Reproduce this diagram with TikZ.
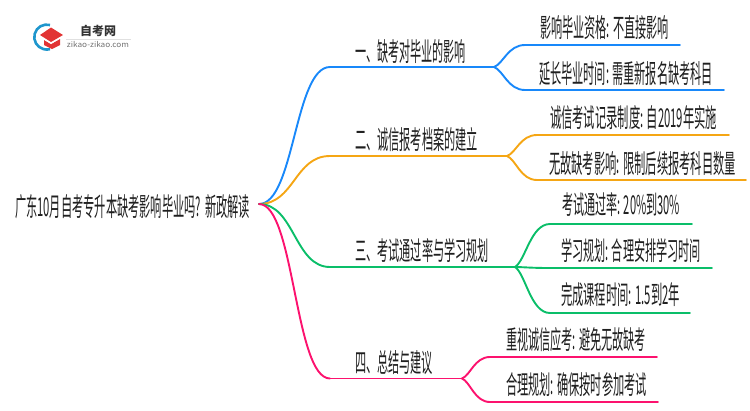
\documentclass[tikz,border=0pt]{standalone}
\usepackage{fontspec}
\usepackage{graphicx}
\setmainfont{Noto Sans CJK SC}
\definecolor{cblue}{RGB}{24,136,250}
\definecolor{corange}{RGB}{245,166,20}
\definecolor{cgreen}{RGB}{10,190,105}
\definecolor{cpink}{RGB}{252,18,110}
\definecolor{capred}{RGB}{226,52,52}
\definecolor{logoblue}{RGB}{30,150,205}
\newcommand{\fitw}[2]{\resizebox{#1pt}{22pt}{#2}}
\tikzset{
  lbl/.style={anchor=west,inner sep=0pt,outer sep=0pt,font=\fontsize{20}{22}\selectfont,text=black!88},
  conn/.style={line width=1.9pt,line cap=round},
}
\newcommand{\branch}[3]{\draw[conn,#1] (#2) .. controls ($(#2)!0.5!(#2 -| #3)$) and ($(#3)!0.5!(#3 -| #2)$) .. (#3);}
\newcommand{\forkto}[3]{\draw[conn,#1] (#2) .. controls ($(#2)!0.3!(#2 -| #3) + 0.15*(#3) - 0.15*(#2 -| #3)$) and ($(#3)!0.55!(#3 -| #2)$) .. (#3);}
\usetikzlibrary{calc}
\begin{document}
\begin{tikzpicture}[x=1pt,y=-1pt]
\useasboundingbox (0,0) rectangle (750,410);
% logo
\draw[line width=2.6pt,logoblue] (50,25) arc[start angle=-75,end angle=-285,radius=12.5];
\fill[capred] (40,35) -- (51,27.5) -- (63,35) -- (51,42) -- cycle;
\fill[capred] (44,40) -- (51,44) -- (60,39) -- (60,45) -- (52,49) -- (44,45) -- cycle;
\draw[white,line width=0.9pt] (43,38.5) -- (51,43.5) -- (61,37.5);
\node[inner sep=0pt] (logotitle) at (98,31) {\fontsize{12}{12}\selectfont\bfseries\textcolor{black!80}{自考网}};
\node[inner sep=0pt] (logosub) at (98,45) {\resizebox{62pt}{\totalheight}{\fontsize{7.5}{8}\selectfont\textcolor{black!55}{zikao-zikao.com}}};
\draw[black!12,line width=0.5pt] (66,39) -- (131,39);
% text
\node[lbl] (root) at (15,207) {\fitw{235}{广东10月自考专升本缺考影响毕业吗?\hspace{0.35em}新政解读}};
\node[lbl] (a) at (355,52) {\fitw{111}{一、缺考对毕业的影响}};
\node[lbl] (b) at (355,140) {\fitw{123}{二、诚信报考档案的建立}};
\node[lbl] (c) at (355,251) {\fitw{134}{三、考试通过率与学习规划}};
\node[lbl] (d) at (355,363) {\fitw{78}{四、总结与建议}};
\node[lbl] (a1) at (540,28) {\fitw{129}{影响毕业资格: 不直接影响}};
\node[lbl] (a2) at (539,74) {\fitw{174}{延长毕业时间: 需重新报名缺考科目}};
\node[lbl] (b1) at (550,118) {\fitw{167}{诚信考试记录制度: 自2019年实施}};
\node[lbl] (b2) at (549,164) {\fitw{187}{无故缺考影响: 限制后续报考科目数量}};
\node[lbl] (c1) at (562,205) {\fitw{118}{考试通过率: 20\%到30\%}};
\node[lbl] (c2) at (561,251) {\fitw{140}{学习规划: 合理安排学习时间}};
\node[lbl] (c3) at (561,295) {\fitw{119}{完成课程时间: 1.5到2年}};
\node[lbl] (d1) at (506,340) {\fitw{140}{重视诚信应考: 避免无故缺考}};
\node[lbl] (d2) at (506,385) {\fitw{141}{合理规划: 确保按时参加考试}};
% junctions
\coordinate (o) at (259,204);
\coordinate (as) at (330,67); \coordinate (ae) at (494,67);
\coordinate (bs) at (330,156); \coordinate (be) at (507,156);
\coordinate (cs) at (330,267); \coordinate (ce) at (515,267);
\coordinate (ds) at (330,378.5); \coordinate (de) at (462,378.5);
\coordinate (a1s) at (525,45); \coordinate (a1e) at (680,45);
\coordinate (a2s) at (525,90); \coordinate (a2e) at (724,90);
\coordinate (b1s) at (537,135); \coordinate (b1e) at (729,135);
\coordinate (b2s) at (537,180); \coordinate (b2e) at (746,180);
\coordinate (c1s) at (550,224); \coordinate (c1e) at (692,224);
\coordinate (c2s) at (550,268); \coordinate (c2e) at (712,268);
\coordinate (c3s) at (550,313); \coordinate (c3e) at (690,313);
\coordinate (d1s) at (490,357); \coordinate (d1e) at (657,357);
\coordinate (d2s) at (490,402); \coordinate (d2e) at (658,402);
% connectors
\branch{cblue}{o}{as} \draw[conn,cblue] (as) -- (ae);
\forkto{cblue}{ae}{a1s} \draw[conn,cblue] (a1s) -- (a1e);
\forkto{cblue}{ae}{a2s} \draw[conn,cblue] (a2s) -- (a2e);
\branch{corange}{o}{bs} \draw[conn,corange] (bs) -- (be);
\forkto{corange}{be}{b1s} \draw[conn,corange] (b1s) -- (b1e);
\forkto{corange}{be}{b2s} \draw[conn,corange] (b2s) -- (b2e);
\branch{cgreen}{o}{cs} \draw[conn,cgreen] (cs) -- (ce);
\forkto{cgreen}{ce}{c1s} \draw[conn,cgreen] (c1s) -- (c1e);
\forkto{cgreen}{ce}{c2s} \draw[conn,cgreen] (c2s) -- (c2e);
\forkto{cgreen}{ce}{c3s} \draw[conn,cgreen] (c3s) -- (c3e);
\branch{cpink}{o}{ds} \draw[conn,cpink] (ds) -- (de);
\forkto{cpink}{de}{d1s} \draw[conn,cpink] (d1s) -- (d1e);
\forkto{cpink}{de}{d2s} \draw[conn,cpink] (d2s) -- (d2e);
\end{tikzpicture}
\end{document}
